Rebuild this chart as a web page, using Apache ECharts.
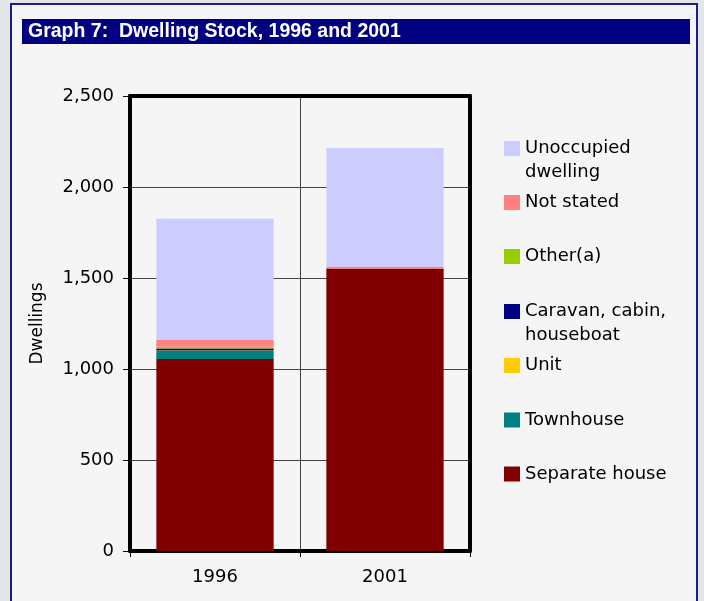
<!DOCTYPE html>
<html lang="en">
<head>
    <meta charset="UTF-8">
    <title>Graph 7: Dwelling Stock, 1996 and 2001</title>
    <style>
        html, body {
            margin: 0;
            padding: 0;
        }

        #chart {
            width: 704px;
            height: 601px;
        }
    </style>
</head>
<body>
<div id="chart"></div>
<script src="https://cdn.jsdelivr.net/npm/echarts@6/dist/echarts.min.js"></script>
<script>
    var years = ['1996', '2001'];

    // stack order, bottom to top
    var separateHouse = [1055, 1544];
    var townhouse = [44, 0];
    var unit = [2, 0];
    var caravan = [12, 5];
    var other = [9, 0];
    var notStated = [38, 11];
    var unoccupied = [665, 654];

    var yTicks = [0, 500, 1000, 1500, 2000, 2500];

    var names = ['Separate house', 'Townhouse', 'Unit', 'Caravan, cabin, houseboat',
        'Other(a)', 'Not stated', 'Unoccupied dwelling'];
    // leading blank line keeps the marker level with the first line of two-line entries
    var labels = ['Separate house', 'Townhouse', 'Unit', '\nCaravan, cabin,\nhouseboat',
        'Other(a)', 'Not stated', '\nUnoccupied\ndwelling'];
    var values = [separateHouse, townhouse, unit, caravan, other, notStated, unoccupied];
    var colors = ['#800000', '#008080', '#ffcc00', '#000080', '#99cc00', '#ff8080', '#ccccff'];

    // legend rows (top of each legend box), listed top to bottom
    var legendTops = [112.5, 190.5, 244.5, 275.5, 353.5, 408, 462];

    var font = 'DejaVu Sans';

    var series = names.map(function (name, i) {
        return {
            name: name,
            type: 'bar',
            stack: 'total',
            barWidth: '69%',
            xAxisIndex: 0,
            yAxisIndex: 0,
            data: values[i],
            itemStyle: {color: colors[i]}
        };
    });

    var legends = [];
    for (var k = 0; k < names.length; k = k + 1) {
        var idx = names.length - 1 - k;
        legends.push({
            data: [names[idx]],
            orient: 'vertical',
            left: 504,
            top: legendTops[k],
            padding: 0,
            itemWidth: 16,
            itemHeight: 15,
            itemGap: 0,
            selectedMode: false,
            icon: 'rect',
            formatter: function (n) {
                return labels[names.indexOf(n)];
            },
            textStyle: {
                fontFamily: font,
                fontSize: 18,
                lineHeight: 24,
                color: '#000'
            }
        });
    }

    var frameLine = {show: true, onZero: false, lineStyle: {color: '#000', width: 4}};

    var option = {
        backgroundColor: '#e6e6ea',
        animation: false,
        graphic: [
            {
                type: 'rect',
                shape: {x: 11, y: 4, width: 686, height: 610},
                style: {fill: '#f5f5f5', stroke: '#1c1c8c', lineWidth: 2}
            },
            {
                type: 'rect',
                shape: {x: 22, y: 19, width: 668, height: 25},
                style: {fill: '#000080'}
            }
        ],
        title: {
            text: 'Graph 7:  Dwelling Stock, 1996 and 2001',
            left: 28,
            top: 21,
            padding: 0,
            textStyle: {
                fontFamily: 'Liberation Sans Narrow, Liberation Sans',
                fontWeight: 'bold',
                fontSize: 19.5,
                lineHeight: 21,
                color: '#fff'
            }
        },
        legend: legends,
        grid: {
            left: 130,
            right: 234,
            top: 96,
            bottom: 50
        },
        xAxis: [
            {
                type: 'category',
                data: years,
                axisLine: frameLine,
                axisTick: {show: true, length: 6, lineStyle: {color: '#000'}},
                axisLabel: {margin: 17, fontFamily: font, fontSize: 18, color: '#000'},
                splitLine: {show: true, lineStyle: {color: '#444', width: 1}}
            },
            {
                type: 'category',
                data: years,
                position: 'top',
                axisLine: frameLine,
                axisTick: {show: false},
                axisLabel: {show: false},
                splitLine: {show: false}
            }
        ],
        yAxis: [
            {
                type: 'value',
                min: yTicks[0],
                max: yTicks[yTicks.length - 1],
                interval: yTicks[1] - yTicks[0],
                name: 'Dwellings',
                nameLocation: 'middle',
                nameGap: 84,
                nameTextStyle: {fontFamily: font, fontSize: 17, color: '#000'},
                axisLine: frameLine,
                axisTick: {show: true, length: 7, lineStyle: {color: '#000'}},
                axisLabel: {
                    margin: 16,
                    fontFamily: font,
                    fontSize: 18,
                    color: '#000',
                    formatter: function (v) {
                        return v.toLocaleString('en-US');
                    }
                },
                splitLine: {show: true, lineStyle: {color: '#444', width: 1}}
            },
            {
                type: 'value',
                position: 'right',
                min: yTicks[0],
                max: yTicks[yTicks.length - 1],
                interval: yTicks[1] - yTicks[0],
                axisLine: frameLine,
                axisTick: {show: false},
                axisLabel: {show: false},
                splitLine: {show: false}
            }
        ],
        series: series
    };

    var myChart = echarts.init(document.getElementById('chart'));
    myChart.setOption(option);
</script>
</body>
</html>
